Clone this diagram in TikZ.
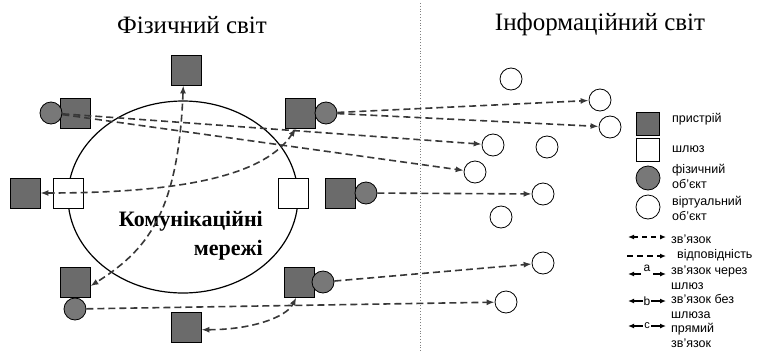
\documentclass[tikz,border=0pt]{standalone}
\usepackage{fontspec}
\setmainfont{Liberation Serif}
\newfontfamily\legendfont{Liberation Sans}
\usetikzlibrary{arrows.meta}

\definecolor{devgray}{gray}{0.42}
\definecolor{objgray}{gray}{0.47}
\definecolor{linkgray}{gray}{0.22}

\begin{document}
\begin{tikzpicture}[x=1pt, y=-1pt, >={Latex[length=8pt,width=6pt]},
        device/.style={draw, line width=0.8pt, fill=devgray, minimum size=30pt, inner sep=0pt},
        gateway/.style={draw, line width=0.8pt, fill=white, minimum size=30pt, inner sep=0pt},
        physobj/.style={draw, line width=0.8pt, circle, fill=objgray, minimum size=22pt, inner sep=0pt},
        virtobj/.style={draw, line width=0.8pt, circle, fill=white, minimum size=22pt, inner sep=0pt},
        link/.style={draw=linkgray, line width=1.6pt, dash pattern=on 7pt off 4pt},
        leglink/.style={draw=black, line width=1.3pt, >={Latex[length=6pt,width=5pt]}},
        legtext/.style={anchor=west, align=left, inner sep=0pt, font=\legendfont\fontsize{12.5}{15}\selectfont}]
        \useasboundingbox (0,0) rectangle (759,351);

        \node[anchor=base, font=\fontsize{25}{30}\selectfont] (title_phys) at (192,33) {Фізичний світ};
        \node[anchor=base, font=\fontsize{25}{30}\selectfont] (title_info) at (600,30) {Інформаційний світ};

        \coordinate (div_top) at (420,3);
        \coordinate (div_bot) at (420,351);
        \draw[gray, dotted, line width=0.8pt] (div_top) -- (div_bot);

        \draw[line width=1.2pt] (183,197) ellipse [x radius=115, y radius=96];
        \node[anchor=east, align=right, inner sep=0pt, font=\bfseries\fontsize{22}{29}\selectfont] (net_label) at (263,236) {Комунікаційні\\мережі};

        % physical world
        \node[device] (dev_top) at (186,70) {};
        \node[device] (dev_lt) at (75,113) {};
        \node[physobj] (obj_lt) at (51,113) {};
        \node[device] (dev_rt) at (300,113) {};
        \node[physobj] (obj_rt) at (326,113) {};
        \node[device] (dev_l) at (25,193) {};
        \node[gateway] (gw_l) at (68,193) {};
        \node[gateway] (gw_r) at (293,193) {};
        \node[device] (dev_r) at (340,193) {};
        \node[physobj] (obj_r) at (366,193) {};
        \node[device] (dev_lb) at (75,282) {};
        \node[physobj] (obj_lb) at (75,309) {};
        \node[device] (dev_rb) at (299,282) {};
        \node[physobj] (obj_rb) at (323,282) {};
        \node[device] (dev_b) at (186,327) {};

        % information world
        \node[virtobj] (virt_1) at (511,79) {};
        \node[virtobj] (virt_2) at (600,100) {};
        \node[virtobj] (virt_3) at (610,127) {};
        \node[virtobj] (virt_4) at (493,145) {};
        \node[virtobj] (virt_5) at (547,147) {};
        \node[virtobj] (virt_6) at (475,172) {};
        \node[virtobj] (virt_7) at (543,194) {};
        \node[virtobj] (virt_8) at (501,217) {};
        \node[virtobj] (virt_9) at (543,263) {};
        \node[virtobj] (virt_10) at (506,302) {};

        \draw[link, ->] (obj_rt) -- (virt_2);
        \draw[link, ->] (obj_rt) -- (virt_3);
        \draw[link, ->] (obj_lt) -- (virt_4);
        \draw[link, ->] (obj_lt) -- (virt_6);
        \draw[link, ->] (obj_r) -- (virt_7);
        \draw[link, ->] (obj_rb) -- (virt_9);
        \draw[link, ->] (obj_lb) -- (virt_10);

        \draw[link, <->] (dev_l.east) .. controls +(150,0) and +(-30,45) .. (dev_rt.255);
        \draw[link, <->] (dev_top.260) .. controls +(-5,130) and +(55,-35) .. (dev_lb.-15);
        \draw[link, <->] (dev_b.-10) .. controls +(50,0) and +(-10,20) .. (dev_rb.260);

        % legend
        \node[device, minimum size=23pt] (leg_dev) at (648,124) {};
        \node[gateway, minimum size=23pt] (leg_gw) at (648,150) {};
        \node[physobj, minimum size=24pt] (leg_phys) at (648,178) {};
        \node[virtobj, minimum size=24pt] (leg_virt) at (648,207) {};
        \node[legtext] (txt_dev) at (672,119) {пристрій};
        \node[legtext] (txt_gw) at (672,149) {шлюз};
        \node[legtext] (txt_phys) at (672,176) {фізичний\\об’єкт};
        \node[legtext] (txt_virt) at (672,208) {віртуальний\\об’єкт};

        \draw[leglink, <->, dash pattern=on 5pt off 4pt] (628,237) -- (666,237);
        \node[legtext] (txt_link) at (671,239) {зв’язок};
        \draw[leglink, ->, dash pattern=on 6pt off 4pt] (627,256) -- (666,256);
        \node[legtext] (txt_corr) at (677,255) {відповідність};

        \node[inner sep=0pt, font=\legendfont\fontsize{12}{14}\selectfont] (lbl_a) at (647,268) {a};
        \draw[leglink, ->] (641,274) -- (628,274);
        \draw[leglink, ->] (653,274) -- (666,274);
        \node[legtext] (txt_gwlink) at (671,278) {зв’язок через\\шлюз};

        \draw[leglink, <->] (628,301) -- (666,301) node[midway, fill=white, inner sep=1pt, font=\legendfont\fontsize{12}{14}\selectfont] (lbl_b) {b};
        \node[legtext] (txt_nogw) at (671,306) {зв’язок без\\шлюза};

        \draw[leglink, <->] (628,326) -- (666,326) node[midway, fill=white, inner sep=1pt, font=\legendfont\fontsize{11}{14}\selectfont] (lbl_c) {c};
        \node[legtext] (txt_direct) at (671,335) {прямий\\зв’язок};
\end{tikzpicture}
\end{document}
